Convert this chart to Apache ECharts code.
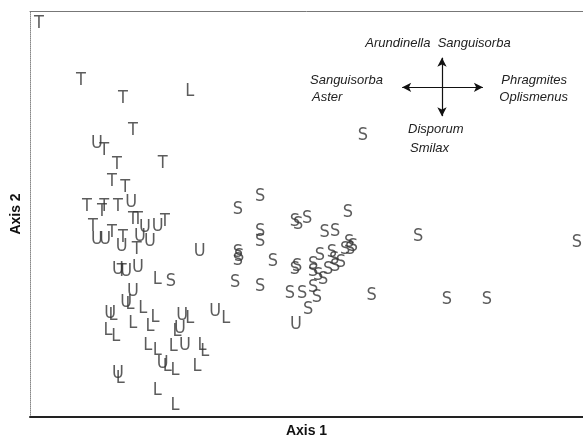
<!DOCTYPE html>
<html>
<head>
<meta charset="utf-8">
<script src="https://cdn.jsdelivr.net/npm/echarts@6/dist/echarts.min.js"></script>
<style>
html,body{margin:0;padding:0;background:#fff;}
#chart{width:583px;height:443px;}
</style>
</head>
<body>
<div id="chart"></div>
<script>
// Ordination scores (Axis 1, Axis 2), relative units 0-100
const groupT = [
  [1.6,97.3],[9.2,83.1],[16.8,78.7],[18.6,70.9],[13.4,66.0],[15.7,62.6],[24.0,62.8],
  [14.8,58.4],[17.2,56.7],[10.3,52.1],[13.0,50.9],[13.4,52.1],[15.9,52.1],[11.4,47.2],
  [14.8,45.7],[16.8,44.5],[19.3,41.6],[18.6,48.9],[19.5,48.9],[24.4,48.4],[16.6,36.2]
];
const groupU = [
  [12.1,67.7],[18.3,53.1],[12.1,44.0],[13.6,44.0],[16.6,42.3],[19.9,44.7],[20.8,46.9],
  [21.7,43.5],[23.1,47.2],[15.9,36.7],[17.4,36.2],[19.5,37.2],[30.7,41.1],[18.6,31.1],
  [17.4,28.6],[14.5,25.7],[27.5,25.2],[33.5,26.2],[27.1,22.0],[28.0,17.8],[24.0,13.4],
  [15.9,11.0],[48.1,23.0]
];
const groupL = [
  [28.9,80.4],[23.0,34.2],[18.1,27.9],[15.0,25.2],[20.4,26.9],[18.6,23.2],[21.7,22.7],
  [22.6,24.9],[28.9,24.5],[35.4,24.5],[14.1,21.5],[15.5,20.0],[26.6,21.3],[21.3,17.8],
  [23.0,16.6],[25.9,17.6],[31.1,17.8],[31.6,16.4],[24.8,12.7],[26.2,11.7],[30.2,12.7],
  [16.3,9.8],[23.0,6.8],[26.2,3.2]
];
const groupS = [
  [37.6,51.3],[41.6,54.5],[47.9,48.4],[48.5,47.7],[50.1,49.1],[57.5,50.6],[41.6,46.0],
  [41.6,43.5],[53.3,45.7],[55.2,46.0],[37.6,40.8],[37.8,39.9],[37.6,38.9],[57.7,43.3],
  [57.0,41.6],[57.9,41.6],[58.4,42.3],[54.6,40.8],[55.0,39.1],[56.2,38.4],[43.9,38.6],
  [52.4,40.1],[51.2,37.9],[47.9,36.7],[48.3,37.4],[51.2,36.2],[52.1,35.2],[53.0,34.2],
  [53.9,36.7],[55.2,37.4],[37.1,33.3],[41.6,32.5],[47.0,30.6],[49.2,30.6],[51.2,32.3],
  [51.9,29.8],[50.3,26.7],[60.2,69.7],[70.2,44.7],[98.9,43.3],[61.8,30.1],[75.4,29.3],
  [82.6,29.3],[25.5,33.7]
];
const groupNames = ['T','U','L','S'];
// species-gradient cross (arm ends, same units)
const crossH = [[67.3,81.2],[81.9,81.2]];
const crossV = [[74.5,88.5],[74.5,74.1]];

const letterFont = '"Liberation Sans Narrow","DejaVu Sans Condensed","Liberation Sans",sans-serif';
function letterSeries(name, data){
  return {
    type:'scatter', name:name, data:data,
    symbolSize:1, itemStyle:{color:'rgba(0,0,0,0)'},
    label:{show:true, position:'inside', formatter:name, fontSize:18, offset:[0,1],
      fontFamily:letterFont, color:'#333'},
    emphasis:{disabled:true}, silent:true, animation:false
  };
}
const series = [groupT,groupU,groupL,groupS].map((d,i)=>letterSeries(groupNames[i], d));
series.push({
  type:'scatter', data:[], silent:true, animation:false,
  markLine:{
    silent:true, animation:false, symbol:['arrow','arrow'], symbolSize:[7,9],
    lineStyle:{color:'#111', width:1.2, type:'solid'}, label:{show:false},
    data:[
      [{coord:crossH[0]},{coord:crossH[1]}],
      [{coord:crossV[0]},{coord:crossV[1]}]
    ]
  }
});

const tFont = '"Liberation Sans",Arial,sans-serif';
const itText = (txt, x, y, align)=>({type:'text', x:x, y:y,
  style:{text:txt, fill:'#222', font:'italic 13px '+tFont, textAlign:align, textVerticalAlign:'middle'}, silent:true});

const chart = echarts.init(document.getElementById('chart'), null, {renderer:'canvas'});
chart.setOption({
  animation:false,
  backgroundColor:'#fff',
  grid:{left:30, top:11, right:0, bottom:23, containLabel:false},
  xAxis:[{
    type:'value', min:0, max:100,
    name:'Axis 1', nameLocation:'middle', nameGap:7,
    nameTextStyle:{fontFamily:tFont, fontWeight:'bold', fontSize:14, color:'#111'},
    axisLine:{show:true, lineStyle:{color:'#222', width:2}},
    axisTick:{show:false}, axisLabel:{show:false}, splitLine:{show:false}
  },{
    type:'value', min:0, max:100, position:'top',
    axisLine:{show:true, lineStyle:{color:'#777', width:1}},
    axisTick:{show:false}, axisLabel:{show:false}, splitLine:{show:false}
  }],
  yAxis:{
    type:'value', min:0, max:100,
    name:'Axis 2', nameLocation:'middle', nameGap:7, nameRotate:90,
    nameTextStyle:{fontFamily:tFont, fontWeight:'bold', fontSize:14, color:'#111'},
    axisLine:{show:true, lineStyle:{color:'#888', width:1, type:'dotted'}},
    axisTick:{show:false}, axisLabel:{show:false}, splitLine:{show:false}
  },
  series:series,
  graphic:[
    itText('Arundinella  Sanguisorba', 438, 43, 'center'),
    itText('Sanguisorba', 310, 80, 'left'),
    itText('Aster', 312, 97, 'left'),
    itText('Phragmites', 567, 80, 'right'),
    itText('Oplismenus', 568, 97, 'right'),
    itText('Disporum', 408, 129, 'left'),
    itText('Smilax', 410, 148, 'left')
  ]
});
</script>
</body>
</html>
